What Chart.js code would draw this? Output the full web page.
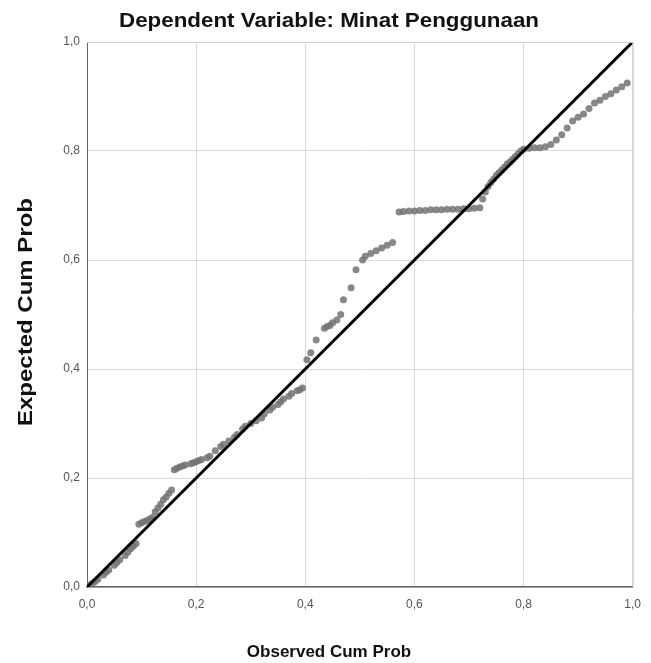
<!DOCTYPE html>
<html>
<head>
<meta charset="utf-8">
<script src="https://cdn.jsdelivr.net/npm/chart.js@4.4.1/dist/chart.umd.min.js"></script>
<style>
  html, body { margin: 0; padding: 0; background: #fff; }
  #wrap { width: 651px; height: 663px; }
</style>
</head>
<body>
<div id="wrap"><canvas id="ppPlot" width="651" height="663"></canvas></div>
<script>
// observed vs expected cumulative probability
const observedCumProb = [
  0.005, 0.01, 0.015, 0.02, 0.03, 0.035, 0.04, 0.05, 0.055, 0.06, 0.07, 0.075, 0.08, 0.085, 0.09,
  0.095, 0.10, 0.105, 0.11, 0.115, 0.12,
  0.125, 0.13, 0.135, 0.14, 0.145, 0.15, 0.155,
  0.16, 0.165, 0.17, 0.175, 0.18, 0.19, 0.195, 0.20, 0.205, 0.21, 0.22, 0.225,
  0.235, 0.245, 0.25, 0.26, 0.27, 0.275, 0.285, 0.29, 0.30, 0.31, 0.32,
  0.325, 0.335, 0.34, 0.35, 0.355, 0.36, 0.37, 0.375, 0.385, 0.39, 0.395,
  0.403, 0.41, 0.42, 0.435, 0.44, 0.445, 0.45, 0.458, 0.465, 0.47, 0.484, 0.493,
  0.505, 0.51, 0.52, 0.53, 0.54, 0.55, 0.56,
  0.572, 0.58, 0.59, 0.60, 0.61, 0.62, 0.63, 0.64, 0.65, 0.66, 0.67, 0.68, 0.69, 0.70, 0.71, 0.72,
  0.725, 0.73, 0.735, 0.74, 0.745, 0.75, 0.755, 0.76, 0.765, 0.77, 0.775, 0.78, 0.785, 0.79, 0.795, 0.80,
  0.81, 0.82, 0.83, 0.84, 0.85, 0.86,
  0.87, 0.88, 0.89, 0.90, 0.91, 0.92, 0.93, 0.94, 0.95, 0.96, 0.97, 0.98, 0.99
];
const expectedCumProb = [
  0.003, 0.007, 0.01, 0.014, 0.022, 0.027, 0.031, 0.04, 0.045, 0.05, 0.058, 0.064, 0.07, 0.075, 0.08,
  0.115, 0.118, 0.12, 0.122, 0.125, 0.128,
  0.138, 0.145, 0.152, 0.16, 0.165, 0.172, 0.178,
  0.215, 0.218, 0.22, 0.222, 0.224, 0.226, 0.228, 0.23, 0.232, 0.234, 0.237, 0.24,
  0.25, 0.258, 0.262, 0.268, 0.275, 0.28, 0.29, 0.295, 0.30, 0.305, 0.31,
  0.318, 0.325, 0.33, 0.335, 0.34, 0.345, 0.35, 0.355, 0.36, 0.362, 0.365,
  0.417, 0.43, 0.453, 0.475, 0.478, 0.48, 0.485, 0.49, 0.50, 0.527, 0.549, 0.582,
  0.60, 0.607, 0.612, 0.617, 0.622, 0.627, 0.632,
  0.688, 0.689, 0.69, 0.69, 0.691, 0.691, 0.692, 0.692, 0.692, 0.693, 0.693, 0.693, 0.694, 0.694, 0.695, 0.696,
  0.712, 0.725, 0.735, 0.742, 0.748, 0.755, 0.76, 0.765, 0.77, 0.776, 0.78, 0.785, 0.79, 0.795, 0.80, 0.803,
  0.805, 0.806, 0.806, 0.808, 0.812, 0.82,
  0.83, 0.842, 0.855, 0.862, 0.868, 0.878, 0.888, 0.893, 0.90, 0.905, 0.912, 0.918, 0.925
];
const diagonal = [0, 1];
const tickValues = [0, 0.2, 0.4, 0.6, 0.8, 1.0];

const chartTitle = 'Dependent Variable: Minat Penggunaan';
const xTitle = 'Observed Cum Prob';
const yTitle = 'Expected Cum Prob';

const fontFamily = "'Liberation Sans', Arial, sans-serif";
const fmtTick = v => v.toFixed(1).replace('.', ',');

const ppCanvas = document.getElementById('ppPlot');

// draw text scaled to a given length (the source picture is slightly stretched)
const fitText = (ctx, text, x, y, length) => {
  const w = ctx.measureText(text).width;
  ctx.save();
  ctx.translate(x, y);
  ctx.scale(length / w, 1);
  ctx.fillText(text, 0, 0);
  ctx.restore();
};

// frame on top/right + the texts, placed like the SPSS output
const frameAndTitles = {
  id: 'frameAndTitles',
  afterDraw: chart => {
    const ctx = chart.ctx;
    const area = chart.chartArea;
    ctx.save();
    ctx.strokeStyle = '#d0d0d0';
    ctx.lineWidth = 1;
    ctx.beginPath();
    ctx.moveTo(area.left, area.top + 0.5);
    ctx.lineTo(area.right + 0.5, area.top + 0.5);
    ctx.lineTo(area.right + 0.5, area.bottom);
    ctx.stroke();

    ctx.fillStyle = '#111';
    ctx.textAlign = 'center';
    ctx.textBaseline = 'alphabetic';
    ctx.font = 'bold 20px ' + fontFamily;
    fitText(ctx, chartTitle, 329, 27, 420);
    ctx.font = 'bold 17px ' + fontFamily;
    ctx.fillText(xTitle, 329, 657);

    ctx.font = 'bold 21px ' + fontFamily;
    ctx.translate(32, 312);
    ctx.rotate(-Math.PI / 2);
    fitText(ctx, yTitle, 0, 0, 228);
    ctx.restore();
  }
};

const ppChart = new Chart(ppCanvas, {
  type: 'scatter',
  data: {
    datasets: [
      {
        label: 'Diagonal',
        type: 'line',
        data: diagonal.map(v => ({ x: v, y: v })),
        borderColor: '#000',
        borderWidth: 3,
        pointRadius: 0,
        fill: false,
        order: 0
      },
      {
        label: 'Observed',
        data: observedCumProb.map((x, i) => ({ x: x, y: expectedCumProb[i] })),
        backgroundColor: 'rgba(115, 115, 115, 0.85)',
        borderColor: 'rgba(115, 115, 115, 0.85)',
        borderWidth: 0,
        pointRadius: 3.5,
        order: 1
      }
    ]
  },
  options: {
    responsive: false,
    animation: false,
    layout: {
      padding: { top: 42, right: 16, left: 0, bottom: 0 }
    },
    scales: {
      x: {
        type: 'linear',
        min: 0,
        max: 1,
        afterBuildTicks: scale => {
          scale.ticks = tickValues.map(v => ({ value: v }));
        },
        afterFit: scale => {
          scale.height = 76;
        },
        grid: { color: '#dadada', drawTicks: false },
        border: { color: '#666', width: 1.5 },
        ticks: {
          padding: 10,
          color: '#555',
          font: { family: fontFamily, size: 12 },
          callback: v => fmtTick(v)
        }
      },
      y: {
        type: 'linear',
        min: 0,
        max: 1,
        afterBuildTicks: scale => {
          scale.ticks = tickValues.map(v => ({ value: v }));
        },
        afterFit: scale => {
          scale.width = 87;
        },
        grid: { color: '#dadada', drawTicks: false },
        border: { color: '#666', width: 1 },
        ticks: {
          padding: 7,
          color: '#555',
          font: { family: fontFamily, size: 12 },
          callback: v => fmtTick(v)
        }
      }
    },
    plugins: {
      legend: { display: false },
      tooltip: { enabled: false }
    }
  },
  plugins: [frameAndTitles]
});
</script>
</body>
</html>
